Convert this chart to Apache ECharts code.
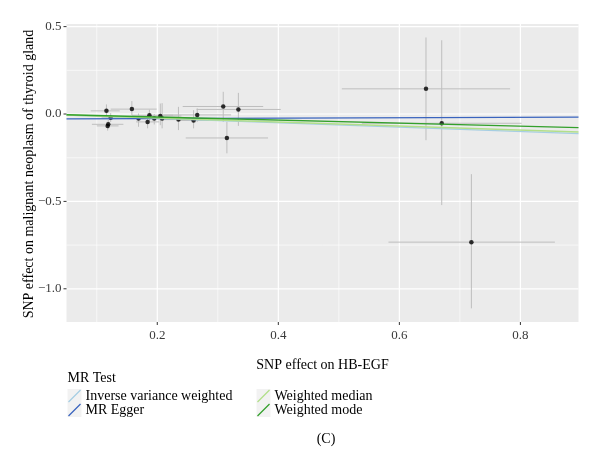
<!DOCTYPE html>
<html><head><meta charset="utf-8">
<script src="https://cdn.jsdelivr.net/npm/echarts@6/dist/echarts.min.js"></script>
<style>html,body{margin:0;padding:0;background:#fff}#chart{width:600px;height:467px}</style>
</head><body><div id="chart"></div>
<script>
// SNP effects (exposure HB-EGF on x, outcome thyroid cancer on y)
const snpX  = [0.116, 0.123, 0.119, 0.118, 0.158, 0.169, 0.184, 0.187, 0.195, 0.205, 0.208, 0.235, 0.260, 0.266, 0.309, 0.334, 0.315, 0.644, 0.670, 0.719];
const snpY  = [0.018, -0.022, -0.059, -0.068, 0.028, -0.026, -0.045, -0.007, -0.026, -0.011, -0.026, -0.032, -0.037, -0.005, 0.043, 0.026, -0.137, 0.144, -0.053, -0.733];
const xLow  = [0.090, 0.108, 0.092, 0.100, 0.123, 0.150, 0.165, 0.158, 0.175, 0.170, 0.190, 0.205, 0.235, 0.210, 0.242, 0.265, 0.247, 0.505, 0.538, 0.582];
const xHigh = [0.138, 0.138, 0.144, 0.136, 0.199, 0.190, 0.203, 0.226, 0.215, 0.240, 0.226, 0.265, 0.285, 0.322, 0.375, 0.404, 0.383, 0.783, 0.802, 0.857];
const yLow  = [-0.015, -0.045, -0.085, -0.095, -0.006, -0.073, -0.082, -0.045, -0.060, -0.064, -0.082, -0.092, -0.082, -0.045, -0.045, -0.068, -0.225, -0.150, -0.521, -1.112];
const yHigh = [0.055, 0.005, -0.035, -0.045, 0.074, 0.003, -0.006, 0.025, 0.000, 0.060, 0.062, 0.041, 0.022, 0.032, 0.127, 0.121, -0.045, 0.438, 0.422, -0.344];

// MR methods
const methods      = ['Inverse variance weighted', 'MR Egger', 'Weighted median', 'Weighted mode'];
const intercepts   = [0, -0.028, 0, 0];
const slopes       = [-0.125, 0.012, -0.115, -0.087];
const methodColors = ['#A6CEE3', '#3A64BE', '#B2DF8A', '#33A02C'];

// axis ticks and titles
const xMajor = [0.2, 0.4, 0.6, 0.8];
const xMinor = [0.1, 0.3, 0.5, 0.7];
const yMajor = [-1.0, -0.5, 0.0, 0.5];
const yMinor = [-0.75, -0.25, 0.25];
const xTitle = 'SNP effect on HB-EGF';
const yTitle = 'SNP effect on malignant neoplasm of thyroid gland';
const legendTitle = 'MR Test';
const panelTag = '(C)';
const X_MIN = 0.05, X_MAX = 0.896, Y_MIN = -1.19, Y_MAX = 0.515;

const FONT = '"Liberation Serif", "DejaVu Serif", serif';
const fmt = v => v.toFixed(1).replace('-', '\u2212');
const isIn = (arr, v) => arr.some(t => Math.abs(t - v) < 1e-6);

const chart = echarts.init(document.getElementById('chart'));

const gridSeries = {
  type: 'custom', silent: true, z: 1, clip: false, data: [0],
  renderItem(params, api) {
    const cs = params.coordSys;
    const ch = [];
    const vline = (v, w) => { const p = api.coord([v, Y_MIN])[0]; ch.push({type:'line', shape:{x1:p, y1:cs.y, x2:p, y2:cs.y+cs.height}, style:{stroke:'#ffffff', lineWidth:w}}); };
    const hline = (v, w) => { const p = api.coord([X_MIN, v])[1]; ch.push({type:'line', shape:{x1:cs.x, y1:p, x2:cs.x+cs.width, y2:p}, style:{stroke:'#ffffff', lineWidth:w}}); };
    xMinor.filter(v => v > X_MIN && v < X_MAX).forEach(v => vline(v, 0.6));
    yMinor.filter(v => v > Y_MIN && v < Y_MAX).forEach(v => hline(v, 0.6));
    xMajor.forEach(v => vline(v, 1.2));
    yMajor.forEach(v => hline(v, 1.2));
    xMajor.forEach(v => { const p = api.coord([v, Y_MIN]); ch.push({type:'line', shape:{x1:p[0], y1:cs.y+cs.height, x2:p[0], y2:cs.y+cs.height+3}, style:{stroke:'#333', lineWidth:1}}); });
    yMajor.forEach(v => { const p = api.coord([X_MIN, v]); ch.push({type:'line', shape:{x1:cs.x-3, y1:p[1], x2:cs.x, y2:p[1]}, style:{stroke:'#333', lineWidth:1}}); });
    return {type:'group', children: ch};
  }
};

const errData = snpX.map((x, i) => [x, snpY[i], xLow[i], xHigh[i], yLow[i], yHigh[i]]);
const errSeries = {
  type: 'custom', silent: true, z: 2, data: errData,
  renderItem(params, api) {
    const x = api.value(0), y = api.value(1);
    const h1 = api.coord([api.value(2), y]), h2 = api.coord([api.value(3), y]);
    const v1 = api.coord([x, api.value(4)]), v2 = api.coord([x, api.value(5)]);
    return {type:'group', children:[
      {type:'line', shape:{x1:h1[0], y1:h1[1], x2:h2[0], y2:h2[1]}, style:{stroke:'#BEBEBE', lineWidth:1}},
      {type:'line', shape:{x1:v1[0], y1:v1[1], x2:v2[0], y2:v2[1]}, style:{stroke:'#BEBEBE', lineWidth:1}}
    ]};
  }
};

const lineSeries = methods.map((m, i) => ({
  type: 'line', name: m, z: 4, silent: true, symbol: 'none',
  lineStyle: {color: methodColors[i], width: 1.3},
  data: [[X_MIN, intercepts[i] + slopes[i] * X_MIN], [X_MAX, intercepts[i] + slopes[i] * X_MAX]]
}));

const pointSeries = {
  type: 'scatter', z: 3, symbolSize: 4.5, itemStyle: {color: '#000'},
  data: snpX.map((x, i) => [x, snpY[i]])
};

// legend and titles built with graphic elements
const legendX = [67.5, 256.5], legendY = [389, 403];
const graphics = [
  {type:'text', x: 29, y: 174, rotation: Math.PI / 2, style:{text: yTitle, font:'14px ' + FONT, fill:'#000', align:'center', verticalAlign:'middle'}},
  {type:'text', left: 67.5, top: 371, style:{text: legendTitle, font:'14px ' + FONT, fill:'#000'}}
];
methods.forEach((m, i) => {
  const col = Math.floor(i / 2), row = i % 2;
  const kx = legendX[col], ky = legendY[row];
  graphics.push({type:'rect', shape:{x:kx, y:ky, width:14, height:14}, style:{fill:'#F2F2F2'}});
  graphics.push({type:'line', shape:{x1:kx+1, y1:ky+13, x2:kx+13, y2:ky+1}, style:{stroke:methodColors[i], lineWidth:1.3}});
  graphics.push({type:'text', x: kx + 18, y: ky + 7, style:{text:m, font:'14px ' + FONT, fill:'#000', verticalAlign:'middle'}});
});
graphics.push({type:'text', x: 326, y: 439, style:{text: panelTag, font:'14px ' + FONT, fill:'#000', align:'center', verticalAlign:'middle'}});

chart.setOption({
  animation: false,
  grid: {left: 66.5, right: 21.5, top: 24, bottom: 145, show: true, backgroundColor: '#EBEBEB', borderWidth: 0},
  xAxis: {
    type: 'value', min: X_MIN, max: X_MAX, splitNumber: 4,
    name: xTitle, nameLocation: 'middle', nameGap: 36,
    nameTextStyle: {fontFamily: FONT, fontSize: 14, color: '#000'},
    axisLine: {show: false}, axisTick: {show: false}, splitLine: {show: false},
    axisLabel: {fontFamily: FONT, fontSize: 13, color: '#3a3a3a', margin: 7, formatter: v => isIn(xMajor, v) ? fmt(v) : ''}
  },
  yAxis: {
    type: 'value', min: Y_MIN, max: Y_MAX, splitNumber: 4,
    axisLine: {show: false}, axisTick: {show: false}, splitLine: {show: false},
    axisLabel: {fontFamily: FONT, fontSize: 13, color: '#3a3a3a', margin: 5, formatter: v => isIn(yMajor, v) ? fmt(v) : ''}
  },
  graphic: graphics,
  series: [gridSeries, errSeries, pointSeries, ...lineSeries]
});
</script></body></html>
